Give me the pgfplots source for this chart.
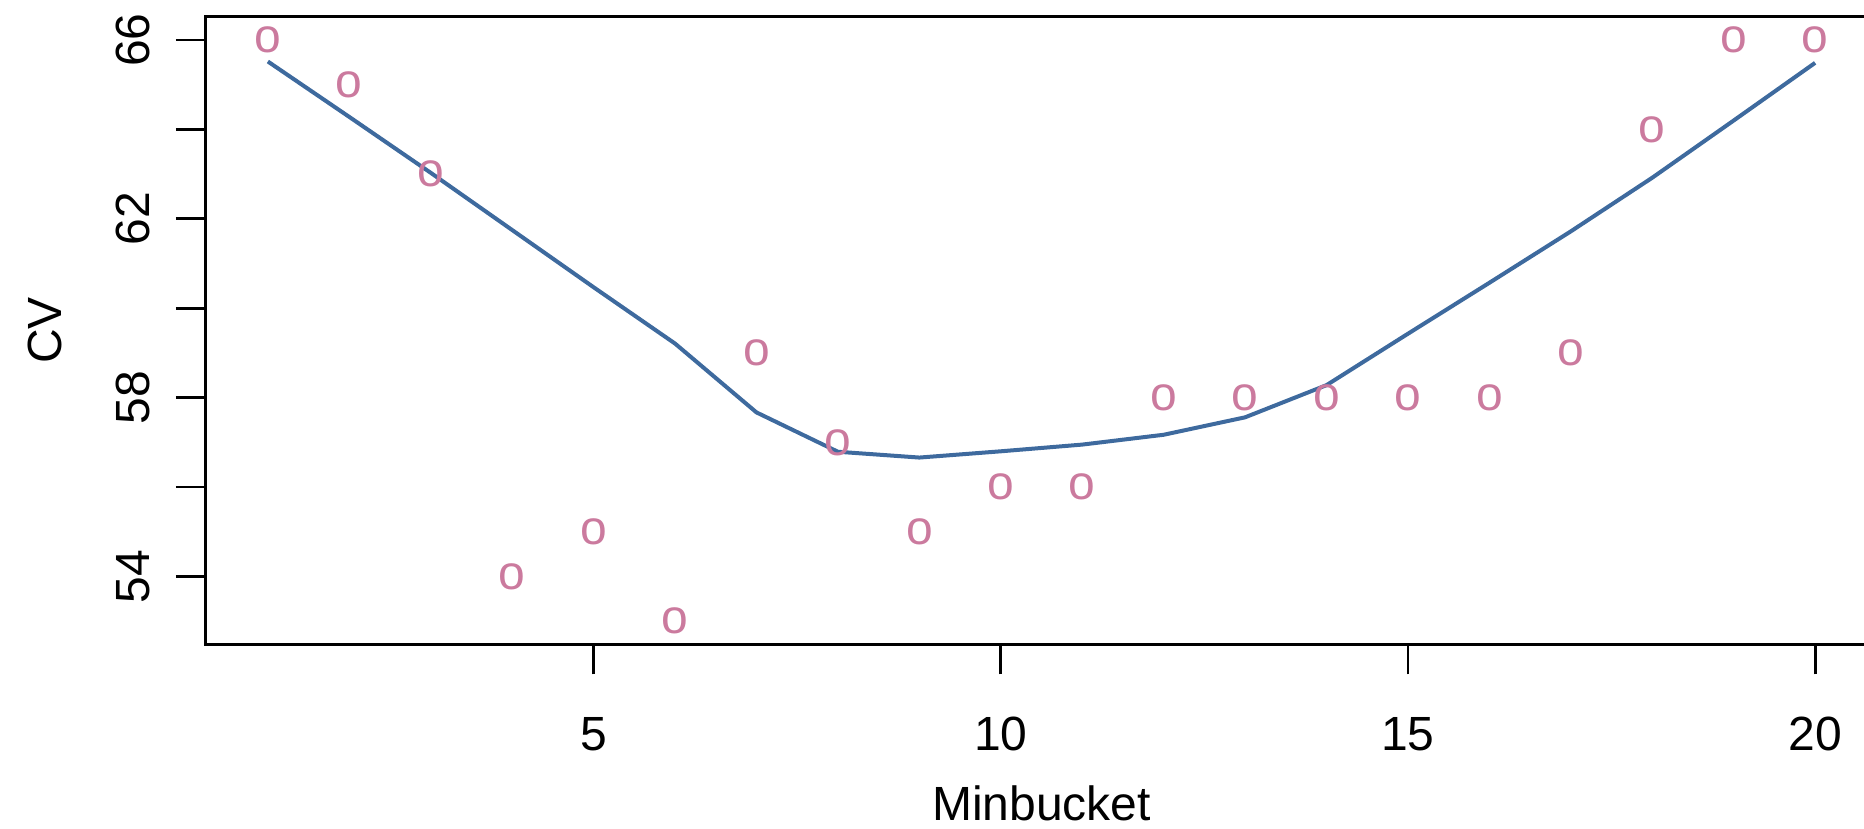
\documentclass[border=0pt]{standalone}
\usepackage{pgfplots}
\pgfplotsset{compat=1.18}
\usepackage{fontspec}
\setmainfont{Liberation Sans}
\definecolor{pinkcol}{RGB}{203,122,158}
\definecolor{bluecol}{RGB}{62,106,158}
\begin{document}
\begin{tikzpicture}[font=\fontsize{12}{14}\selectfont]
\begin{axis}[
  at={(0,0)}, anchor=origin,
  scale only axis, width=417.75pt, height=156.9pt,
  xmin=0.24, xmax=20.76, ymin=52.48, ymax=66.52,
  axis line style={line width=0.75pt},
  tick style={line width=0.7pt, black},
  tick align=outside, major tick length=7.5pt,
  tick pos=left,
  xtick={5,10,15,20}, xticklabels={5,10,15,20},
  ytick={54,56,58,60,62,64,66}, yticklabels={54,,58,,62,,66},
  /pgf/number format/assume math mode=true,
  xticklabel style={anchor=center},
  yticklabel style={anchor=center, rotate=90},
  xticklabel shift=14.9pt, yticklabel shift=10.7pt,
  xlabel={Minbucket}, ylabel={CV},
  xlabel style={at={(axis description cs:0.5,-0.2530)}, anchor=center, inner sep=0pt},
  ylabel style={at={(axis description cs:-0.09635,0.5)}, anchor=center},
  clip=false,
]
\addplot[bluecol, line width=1pt, no markers] coordinates {
(1,65.52) (2,64.28) (3,63.03) (4,61.75) (5,60.47) (6,59.21) (7,57.67) (8,56.79)
(9,56.66) (10,56.80) (11,56.95) (12,57.17) (13,57.56) (14,58.28) (15,59.43)
(16,60.57) (17,61.72) (18,62.92) (19,64.20) (20,65.49)
};
\addplot[only marks, mark=text, text mark={o}, text mark as node=true,
  text mark style={font=\fontsize{12}{14}\selectfont, text=pinkcol, inner sep=0pt, anchor=center}] coordinates {
(1,66) (2,65) (3,63) (4,54) (5,55) (6,53) (7,59) (8,57) (9,55) (10,56)
(11,56) (12,58) (13,58) (14,58) (15,58) (16,58) (17,59) (18,64) (19,66) (20,66)
};
\end{axis}
\pgfresetboundingbox
\useasboundingbox (-51.5pt,-45.9pt) rectangle (414.5pt,161.1pt);
\end{tikzpicture}
\end{document}
